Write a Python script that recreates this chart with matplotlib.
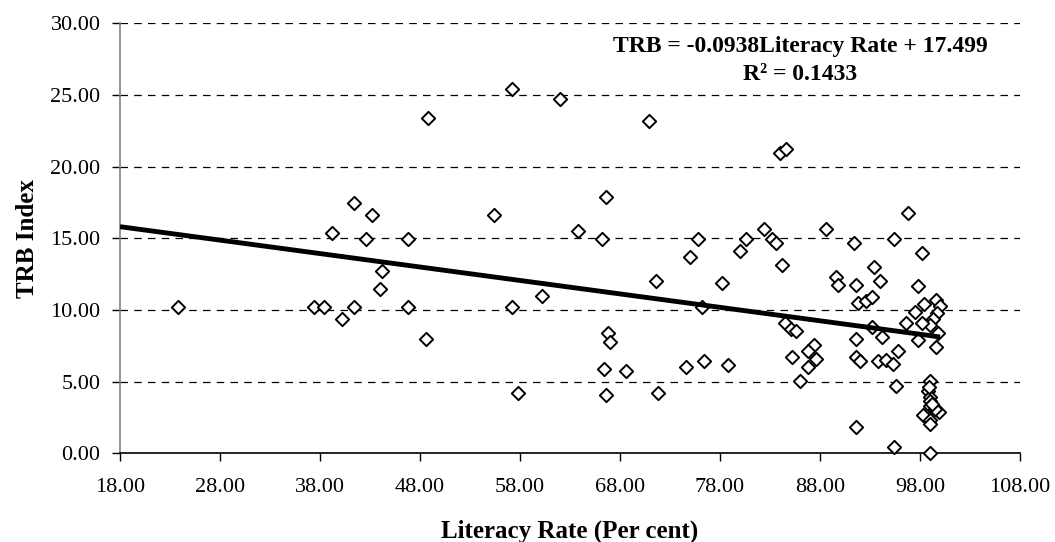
import numpy as np
import matplotlib
matplotlib.use("Agg")
import matplotlib.pyplot as plt

# literacy rate (%) vs TRB index
literacy = [
    23.8, 48.8, 41.4, 43.2, 39.2, 42.6, 46.8, 44.2, 44.0, 37.4,
    38.4, 41.4, 40.2, 46.8, 48.6,
    57.2, 62.0, 70.9, 66.6, 55.4, 63.8, 66.2, 75.8, 75.0, 80.6,
    80.0, 82.4, 71.6, 78.2, 60.2, 57.2, 76.2, 66.8, 67.0, 66.4,
    68.6, 74.6, 76.4, 78.8, 57.8, 66.6, 71.8,
    84.0, 84.6, 96.8, 83.2, 83.6, 88.6, 91.4, 95.4, 98.2, 84.2,
    89.6, 89.8, 91.6, 93.4, 94.0, 97.8, 91.8, 92.6, 93.2, 98.4,
    97.5, 99.6, 100.0, 99.7, 99.3, 99.0, 98.2, 96.6, 99.8, 97.8,
    99.6, 93.2, 94.2, 84.5, 85.1, 85.6, 91.6, 95.8, 85.2, 87.4,
    86.8, 87.6, 86.8, 86.0, 91.6, 92.0, 93.8, 94.6, 95.3, 95.6,
    91.6, 95.4, 99.0, 99.0, 98.8, 99.0, 99.0, 99.0, 98.3, 99.9,
    99.5, 99.0, 99.0, 98.9, 99.2,
]
trb = [
    10.2, 23.4, 17.45, 16.6, 15.35, 14.93, 14.93, 12.7, 11.44, 10.2,
    10.2, 10.2, 9.35, 10.2, 7.95,
    25.4, 24.7, 23.2, 17.86, 16.6, 15.5, 14.93, 14.93, 13.68, 14.93,
    14.1, 15.63, 12.0, 11.86, 11.0, 10.2, 10.2, 8.37, 7.79, 5.86,
    5.72, 6.0, 6.42, 6.14, 4.19, 4.05, 4.19,
    20.93, 21.2, 16.75, 14.98, 14.65, 15.63, 14.65, 14.93, 13.96, 13.12,
    12.28, 11.72, 11.72, 12.98, 12.0, 11.67, 10.47, 10.6, 10.89, 10.42,
    9.86, 10.7, 10.28, 9.77, 9.35, 8.93, 9.07, 9.07, 8.37, 7.9,
    7.4, 8.79, 8.1, 9.07, 8.65, 8.51, 7.95, 7.16, 6.7, 7.58,
    7.12, 6.56, 6.0, 5.02, 6.7, 6.42, 6.42, 6.5, 6.23, 4.7,
    1.81, 0.44, 0.0, 5.02, 4.33, 3.95, 3.63, 3.3, 2.67, 2.88,
    3.07, 2.32, 2.04, 4.6, 3.45,
]

slope = -0.0938
intercept = 17.499
r_squared = 0.1433

x_ticks = np.arange(18, 109, 10)
y_ticks = np.arange(0, 31, 5)

plt.rcParams["font.family"] = ["Liberation Serif", "DejaVu Serif"]

W, H = 1055, 542
fig = plt.figure(figsize=(W / 100, H / 100), dpi=100)
ax = fig.add_axes([120 / W, (H - 453.3) / H, 900 / W, 430 / H])

ax.set_xlim(18, 108)
ax.set_ylim(0, 30)

for yv in y_ticks[1:]:
    ax.axhline(yv, color="black", linestyle=(0, (6, 5)), linewidth=0.9, zorder=1)

ax.scatter(literacy, trb, marker="D", s=46, facecolors="white",
           edgecolors="black", linewidths=1.4, zorder=3, clip_on=False)

# trend line from the axis start to the last data point
line_x = np.array([18, max(literacy)])
ax.plot(line_x, slope * line_x + intercept, color="black", linewidth=3.5,
        zorder=4, solid_capstyle="butt")

ax.set_xticks(x_ticks)
ax.set_xticklabels([f"{v:.2f}" for v in x_ticks])
ax.set_yticks(y_ticks)
ax.set_yticklabels([f"{v:.2f}" for v in y_ticks])
ax.tick_params(axis="x", direction="out", length=6, width=1, pad=12, labelsize=16)
ax.tick_params(axis="y", direction="out", length=6, width=1, pad=8, labelsize=16)

ax.spines["top"].set_visible(False)
ax.spines["right"].set_visible(False)
ax.spines["left"].set_color("#808080")
ax.spines["left"].set_linewidth(1.2)
ax.spines["bottom"].set_color("black")
ax.spines["bottom"].set_linewidth(1.2)

ax.set_xlabel("Literacy Rate (Per cent)", fontsize=18, fontweight="bold", labelpad=16)
ax.set_ylabel("TRB Index", fontsize=18, fontweight="bold", labelpad=8)

# equation box, placed in pixels from the top-left corner
ax.text(800 / W, 1 - 46.5 / H, f"TRB = {slope}Literacy Rate + {intercept}",
        transform=fig.transFigure, ha="center", va="center",
        fontsize=17, fontweight="bold")
ax.text(800 / W, 1 - 75 / H, f"R\u00b2 = {r_squared}",
        transform=fig.transFigure, ha="center", va="center",
        fontsize=17, fontweight="bold")

fig.savefig("out.png", dpi=100, facecolor="white")
